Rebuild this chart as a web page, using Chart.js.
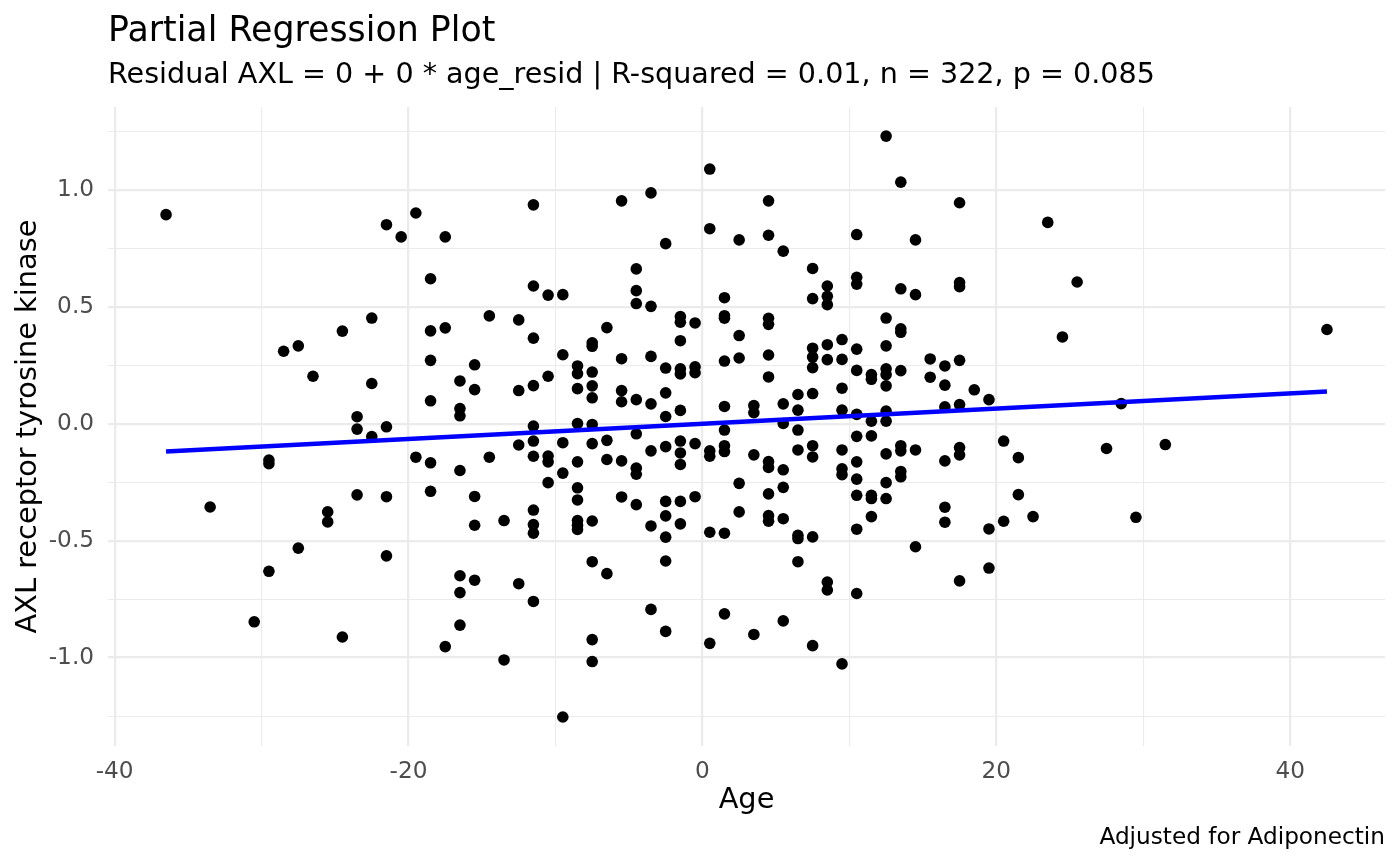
<!DOCTYPE html>
<html>
<head>
<meta charset="utf-8">
<title>Partial Regression Plot</title>
<script src="https://cdn.jsdelivr.net/npm/chart.js@4.4.1/dist/chart.umd.min.js"></script>
<style>
  html, body { margin: 0; padding: 0; background: #ffffff; }
  #wrap { width: 1400px; height: 866px; }
</style>
</head>
<body>
<div id="wrap"><canvas id="prp" width="1400" height="866"></canvas></div>
<script>
// texts
var titleText = 'Partial Regression Plot';
var subtitleText = 'Residual AXL = 0 + 0 * age_resid | R-squared = 0.01, n = 322, p = 0.085';
var xTitle = 'Age';
var yTitle = 'AXL receptor tyrosine kinase';
var captionText = 'Adjusted for Adiponectin';

// age residual columns (x) and the AXL residuals read at each column (y)
var ageCols = [-36.5, -33.5, -30.5, -29.5, -28.5, -27.5, -26.5, -25.5, -24.5, -23.5,
  -22.5, -21.5, -20.5, -19.5, -18.5, -17.5, -16.5, -15.5, -14.5, -13.5,
  -12.5, -11.5, -10.5, -9.5, -8.5, -7.5, -6.5, -5.5, -4.5, -3.5,
  -2.5, -1.5, -0.5, 0.5, 1.5, 2.5, 3.5, 4.5, 5.5, 6.5,
  7.5, 8.5, 9.5, 10.5, 11.5, 12.5, 13.5, 14.5, 15.5, 16.5,
  17.5, 18.5, 19.5, 20.5, 21.5, 22.5, 23.5, 24.5, 25.5, 27.5,
  28.5, 29.5, 31.5, 42.5];

var axlCols = [
  [0.894],
  [-0.356],
  [-0.847],
  [-0.155, -0.171, -0.631],
  [0.31],
  [0.333, -0.532],
  [0.203],
  [-0.377, -0.42],
  [0.396, -0.912],
  [0.03, -0.023, -0.304],
  [0.452, 0.172, -0.055],
  [0.851, -0.013, -0.312, -0.565],
  [0.799],
  [0.901, -0.143],
  [0.62, 0.397, 0.271, 0.098, -0.167, -0.289],
  [0.799, 0.41, -0.953],
  [0.183, 0.065, 0.034, -0.2, -0.65, -0.722, -0.861],
  [0.252, 0.146, -0.311, -0.434, -0.669],
  [0.461, -0.143],
  [-0.414, -1.01],
  [0.444, 0.142, -0.091, -0.684],
  [0.936, 0.589, 0.366, 0.163, -0.01, -0.074, -0.139, -0.369, -0.431, -0.468, -0.76],
  [0.55, 0.203, -0.138, -0.163, -0.252],
  [0.552, 0.295, -0.081, -0.211, -1.254],
  [0.247, 0.214, 0.15, 0.001, -0.163, -0.274, -0.326, -0.414, -0.434, -0.452],
  [0.346, 0.331, 0.221, 0.162, 0.111, -0.003, -0.085, -0.416, -0.59, -0.923, -1.017],
  [0.411, -0.071, -0.153, -0.641],
  [0.953, 0.278, 0.142, 0.094, -0.159, -0.313],
  [0.662, 0.569, 0.514, 0.103, -0.043, -0.19, -0.216, -0.346],
  [0.987, 0.502, 0.288, 0.085, -0.116, -0.437, -0.794],
  [0.77, 0.238, 0.132, 0.031, -0.098, -0.332, -0.394, -0.485, -0.587, -0.888],
  [0.458, 0.434, 0.355, 0.235, 0.213, 0.057, -0.074, -0.125, -0.174, -0.332, -0.428],
  [0.431, 0.243, 0.218, -0.085, -0.312],
  [1.089, 0.834, -0.116, -0.139, -0.464, -0.939],
  [0.539, 0.462, 0.451, 0.268, 0.074, -0.027, -0.094, -0.119, -0.468, -0.813],
  [0.786, 0.377, 0.281, -0.255, -0.377],
  [0.078, 0.047, -0.133, -0.901],
  [0.953, 0.806, 0.451, 0.425, 0.294, 0.2, -0.162, -0.187, -0.3, -0.393, -0.417],
  [0.738, 0.085, 0.001, -0.197, -0.272, -0.406, -0.843],
  [0.125, 0.058, -0.027, -0.112, -0.477, -0.491, -0.59],
  [0.664, 0.535, 0.323, 0.285, 0.24, 0.129, -0.094, -0.142, -0.484, -0.949],
  [0.589, 0.545, 0.509, 0.338, 0.274, -0.677, -0.711],
  [0.36, 0.275, 0.152, 0.058, -0.112, -0.193, -0.218, -1.027],
  [0.809, 0.626, 0.597, 0.319, 0.228, 0.04, -0.054, -0.163, -0.237, -0.306, -0.451, -0.726],
  [0.21, 0.19, 0.011, -0.052, -0.306, -0.32, -0.397],
  [1.23, 0.452, 0.333, 0.235, 0.21, 0.162, 0.054, 0.011, -0.129, -0.252, -0.32],
  [1.033, 0.577, 0.406, 0.391, 0.227, -0.094, -0.116, -0.204, -0.227],
  [0.786, 0.552, -0.112, -0.526],
  [0.277, 0.199],
  [0.247, 0.165, 0.072, -0.159, -0.357, -0.421],
  [0.945, 0.604, 0.586, 0.271, 0.082, -0.102, -0.133, -0.672],
  [0.145],
  [0.103, -0.45, -0.617],
  [-0.074, -0.417],
  [-0.145, -0.303],
  [-0.397],
  [0.861],
  [0.371],
  [0.606],
  [-0.106],
  [0.086],
  [-0.4],
  [-0.089],
  [0.403]
];

// fitted line (lm of residuals)
var fitIntercept = 0.0;
var fitSlope = 0.00324;

// axis limits and ticks
var xLimits = [-40.45, 46.45];
var yLimits = [-1.378, 1.354];
var xTicks = [-40, -30, -20, -10, 0, 10, 20, 30, 40];
var yTicks = [-1.25, -1, -0.75, -0.5, -0.25, 0, 0.25, 0.5, 0.75, 1, 1.25];

var FONT = '"DejaVu Sans", "Liberation Sans", sans-serif';

(function() {

    var points = [];
    ageCols.forEach(function(x, i) {
        axlCols[i].forEach(function(y) {
            points.push({ x: x, y: y });
        });
    });

    var xMin = Math.min.apply(null, ageCols);
    var xMax = Math.max.apply(null, ageCols);
    var fitLine = [
        { x: xMin, y: fitIntercept + fitSlope * xMin },
        { x: xMax, y: fitIntercept + fitSlope * xMax }
    ];

    var isMajorX = function(v) { return v % 20 === 0; };
    var isMajorY = function(v) { return Math.abs(v * 2 - Math.round(v * 2)) < 1e-9; };

    // caption bottom right, under the x axis title
    var captionPlugin = {
        id: 'caption',
        afterDraw: function(chart) {
            var ctx = chart.ctx;
            ctx.save();
            ctx.font = '23.2px ' + FONT;
            ctx.fillStyle = '#000000';
            ctx.textAlign = 'right';
            ctx.textBaseline = 'middle';
            ctx.fillText(captionText, chart.chartArea.right, 838);
            ctx.restore();
        }
    };

    new Chart(document.getElementById('prp'), {
        type: 'scatter',
        data: {
            datasets: [{
                type: 'line',
                label: 'fit',
                data: fitLine,
                borderColor: '#0000ff',
                borderWidth: 4.5,
                pointRadius: 0,
                fill: false,
                order: 0
            }, {
                label: 'residuals',
                data: points,
                backgroundColor: '#000000',
                borderWidth: 0,
                pointRadius: 5.8,
                order: 1
            }]
        },
        options: {
            responsive: false,
            devicePixelRatio: 1,
            animation: false,
            events: [],
            layout: {
                padding: { left: 0, right: 15, top: 0, bottom: 40 }
            },
            plugins: {
                legend: { display: false },
                tooltip: { enabled: false },
                title: {
                    display: true,
                    text: titleText,
                    align: 'start',
                    fullSize: false,
                    color: '#000000',
                    font: { family: FONT, size: 34.8, weight: 'normal' },
                    padding: { top: 11, bottom: 0 }
                },
                subtitle: {
                    display: true,
                    text: subtitleText,
                    align: 'start',
                    fullSize: false,
                    color: '#000000',
                    font: { family: FONT, size: 28.6, weight: 'normal' },
                    padding: { top: 6, bottom: 14 }
                }
            },
            scales: {
                x: {
                    type: 'linear',
                    min: xLimits[0],
                    max: xLimits[1],
                    afterBuildTicks: function(scale) {
                        scale.ticks = xTicks.map(function(v) { return { value: v }; });
                    },
                    afterFit: function(scale) { scale.height = 80; },
                    border: { display: false },
                    grid: {
                        color: '#ebebeb',
                        drawTicks: false,
                        lineWidth: function(c) {
                            return c.tick && isMajorX(c.tick.value) ? 2.2 : 1.1;
                        }
                    },
                    ticks: {
                        autoSkip: false,
                        maxRotation: 0,
                        padding: 12,
                        color: '#4d4d4d',
                        font: { family: FONT, size: 23.2 },
                        callback: function(v) { return isMajorX(v) ? String(v) : ''; }
                    },
                    title: {
                        display: true,
                        text: xTitle,
                        color: '#000000',
                        font: { family: FONT, size: 28.8 },
                        padding: { top: 0, bottom: 8 }
                    }
                },
                y: {
                    type: 'linear',
                    min: yLimits[0],
                    max: yLimits[1],
                    afterBuildTicks: function(scale) {
                        scale.ticks = yTicks.map(function(v) { return { value: v }; });
                    },
                    afterFit: function(scale) { scale.width = 108; },
                    border: { display: false },
                    grid: {
                        color: '#ebebeb',
                        drawTicks: false,
                        lineWidth: function(c) {
                            return c.tick && isMajorY(c.tick.value) ? 2.2 : 1.1;
                        }
                    },
                    ticks: {
                        autoSkip: false,
                        padding: 14,
                        color: '#4d4d4d',
                        font: { family: FONT, size: 23.2 },
                        callback: function(v) { return isMajorY(v) ? v.toFixed(1) : ''; }
                    },
                    title: {
                        display: true,
                        text: yTitle,
                        color: '#000000',
                        font: { family: FONT, size: 28.8 },
                        padding: { top: 11, bottom: 0 }
                    }
                }
            }
        },
        plugins: [captionPlugin]
    });

})();
</script>
</body>
</html>
